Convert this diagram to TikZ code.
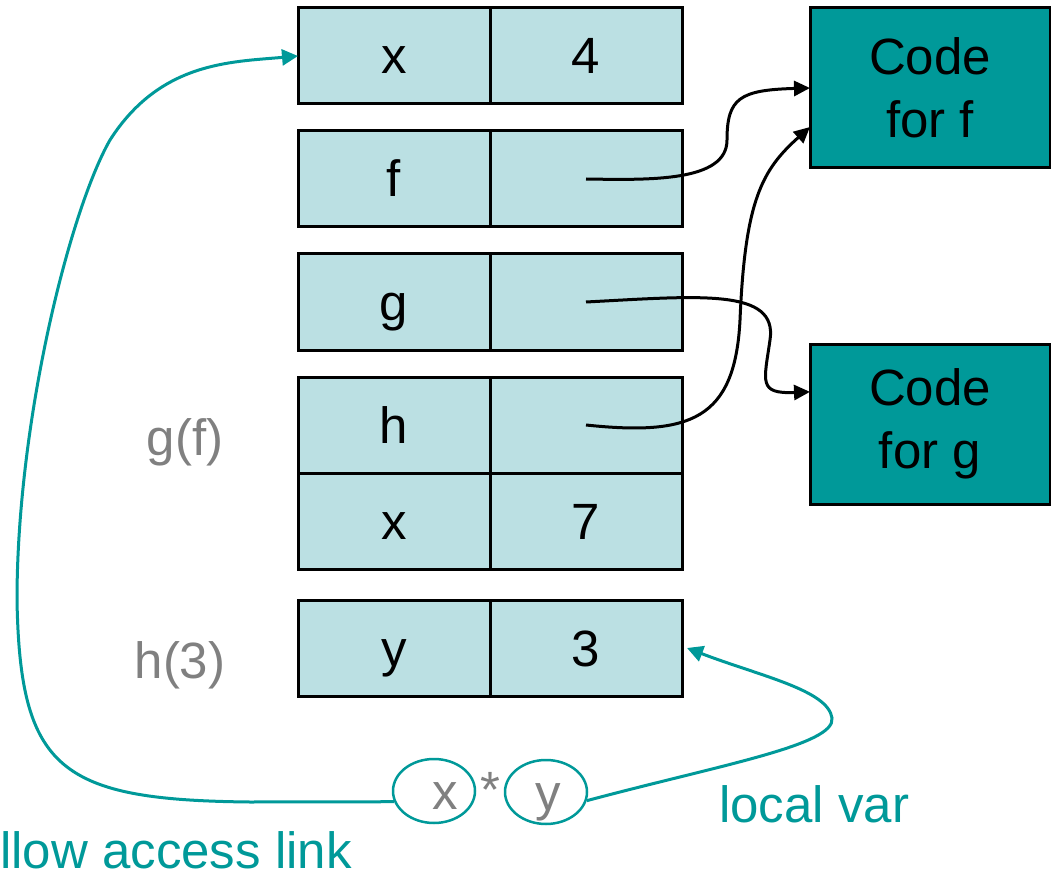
\documentclass[tikz,border=0pt]{standalone}
\usepackage{fontspec}
\setmainfont{Liberation Sans}
\usetikzlibrary{arrows.meta,positioning,shapes.geometric}
\definecolor{cellfill}{RGB}{187,224,227}
\definecolor{codefill}{RGB}{0,153,153}
\definecolor{linkteal}{RGB}{0,153,153}
\definecolor{labelgray}{RGB}{128,128,128}
\tikzset{
  bigtext/.style={font=\fontsize{51}{63}\selectfont},
  oneline/.style={bigtext,text height=40pt,text depth=4pt},
  cell/.style={oneline,draw,line width=3pt,fill=cellfill,minimum width=192pt,
    minimum height=96pt,inner sep=0pt,outer sep=0pt},
  codebox/.style={bigtext,draw,line width=3pt,fill=codefill,minimum width=240pt,
    minimum height=160pt,inner sep=0pt,outer sep=0pt,align=center,anchor=north west},
  framelbl/.style={oneline,text=labelgray},
  opnd/.style={ellipse,draw=linkteal,line width=2.5pt,minimum width=82pt,
    minimum height=64pt,inner sep=0pt,oneline,text=labelgray},
  ptr/.style={line width=3pt,-{Triangle[length=16pt,width=15pt]}},
  link/.style={linkteal,line width=3pt,-{Triangle[length=16pt,width=16pt]}},
}

\begin{document}
\begin{tikzpicture}[x=1pt,y=-1pt]
  \useasboundingbox (0,0) rectangle (1051,874);
  % activation records
  \node[cell,anchor=north west] (n1) at (298,8) {x};
  \node[cell,right=0pt of n1] (v1) {4};
  \node[cell,anchor=north west] (n2) at (298,131) {f};
  \node[cell,right=0pt of n2] (v2) {};
  \node[cell,anchor=north west] (n3) at (298,254) {g};
  \node[cell,right=0pt of n3] (v3) {};
  \node[cell,anchor=north west] (n4) at (298,377) {h};
  \node[cell,right=0pt of n4] (v4) {};
  \node[cell,below=0pt of n4] (n5) {x};
  \node[cell,right=0pt of n5] (v5) {7};
  \node[cell,anchor=north west] (n6) at (298,600) {y};
  \node[cell,right=0pt of n6] (v6) {3};
  \node[framelbl] (gf) at (185,437) {g(f)};
  \node[framelbl] (h3) at (180,660) {h(3)};
  % code blocks
  \node[codebox] (cf) at (810,8) {Code\\for f};
  \node[codebox] (cg) at (810,344) {Code\\for g};
  % expression x*y
  \node[opnd] (ex) at (434,791) {\hspace{22pt}x};
  \node[opnd] (ey) at (546,792) {\hspace{4pt}y\hspace{22pt}};
  \node[oneline,text=labelgray] (star) at (490,789) {*};
  \node[bigtext,text=linkteal,anchor=base west,inner sep=0pt] (lv) at (719,822) {local var};
  \node[bigtext,text=linkteal,anchor=base west,inner sep=0pt] (al) at (0,868) {llow access link};
  % pointers to code
  \draw[ptr] (v2.center) .. controls (650,180) and (727,182) .. (727,140)
    .. controls (727,98) and (740,90) .. (cf.west);
  \draw[ptr] (v3.center) .. controls (700,296) and (778,288) .. (770,340)
    .. controls (764,382) and (758,394) .. (cg.165);
  \draw[ptr] (v4.center) .. controls (690,436) and (735,420) .. (740,320)
    .. controls (745,200) and (762,170) .. (cf.198);
  % access link and local var
  \draw[link] (ex.195) -- (250,802) .. controls (60,800) and (20,770) .. (17,600)
    .. controls (17,420) and (70,210) .. (110,140)
    .. controls (160,62) and (230,62) .. (n1.west);
  \draw[link] (ey.-12) .. controls (720,765) and (836,745) .. (832,718)
    .. controls (828,690) and (760,676) .. ([xshift=5pt]v6.east);
\end{tikzpicture}
\end{document}
